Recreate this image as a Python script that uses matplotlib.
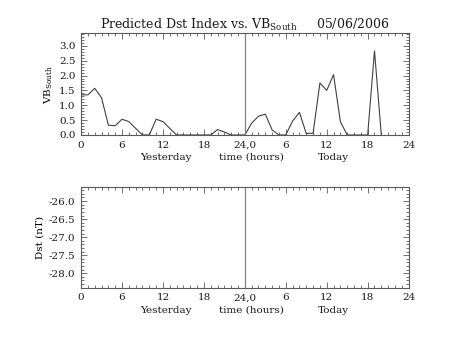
import numpy as np
import matplotlib
matplotlib.use("Agg")
import matplotlib.pyplot as plt
from matplotlib.ticker import MultipleLocator, FormatStrFormatter

# hourly VB_south, yesterday 0h .. today 20h (hour index 0..44)
hours = list(range(45))
vb_south = [1.35, 1.35, 1.57, 1.25, 0.33, 0.31, 0.53, 0.45, 0.22, 0.0,
            0.0, 0.53, 0.45, 0.22, 0.0, 0.0, 0.0, 0.0, 0.0, 0.0,
            0.18, 0.10, 0.0, 0.0, 0.0, 0.40, 0.63, 0.70, 0.17, 0.0,
            0.0, 0.47, 0.76, 0.05, 0.06, 1.75, 1.50, 2.03, 0.45, 0.0,
            0.0, 0.0, 0.0, 2.83, 0.0]
xticks = [0, 6, 12, 18, 24, 30, 36, 42, 48]
xticklabels = ["0", "6", "12", "18", "24,0", "6", "12", "18", "24"]
title = "Predicted Dst Index vs. VB$_{\\mathrm{South}}$     05/06/2006"
date_split = 24

plt.rcParams.update({
    "font.family": ["DejaVu Serif"],
    "mathtext.fontset": "dejavuserif",
    "font.size": 7.5,
    "text.color": "0.1",
    "axes.edgecolor": "0.35",
    "axes.linewidth": 0.8,
    "xtick.color": "0.35",
    "ytick.color": "0.35",
    "xtick.labelcolor": "0.1",
    "ytick.labelcolor": "0.1",
})

fig = plt.figure(figsize=(4.53, 3.40), dpi=100)
ax1 = fig.add_axes([0.179, 0.603, 0.723, 0.299])
ax2 = fig.add_axes([0.179, 0.154, 0.723, 0.297])


def style_axis(ax):
    ax.set_xlim(0, 48)
    ax.set_xticks(xticks)
    ax.set_xticklabels(xticklabels)
    ax.xaxis.set_minor_locator(MultipleLocator(1))
    ax.yaxis.set_minor_locator(MultipleLocator(0.1))
    ax.yaxis.set_major_formatter(FormatStrFormatter("%.1f"))
    ax.tick_params(which="both", direction="in", top=True, right=True, width=0.6)
    ax.tick_params(which="major", length=4, pad=4)
    ax.tick_params(which="minor", length=2)
    ax.axvline(date_split, color="0.5", lw=0.9)
    tr = ax.get_xaxis_transform()
    for xpos, txt in [(12.5, "Yesterday"), (25, "time (hours)"), (37, "Today")]:
        ax.annotate(txt, xy=(xpos, 0), xycoords=tr, xytext=(0, -18),
                    textcoords="offset points", ha="center", va="baseline")


ax1.plot(hours, vb_south, color="0.25", lw=0.8)
ax1.set_ylim(0, 3.42)
ax1.set_yticks(np.arange(0, 3.01, 0.5))
ax1.set_ylabel("VB$_{\\mathrm{South}}$", labelpad=3)
ax1.set_title(title, fontsize=9, pad=2)
style_axis(ax1)

ax2.set_ylim(-28.4, -25.6)
ax2.set_yticks([-26.0, -26.5, -27.0, -27.5, -28.0])
ax2.set_ylabel("Dst (nT)", labelpad=3)
style_axis(ax2)

fig.savefig("out.png", dpi=100)
